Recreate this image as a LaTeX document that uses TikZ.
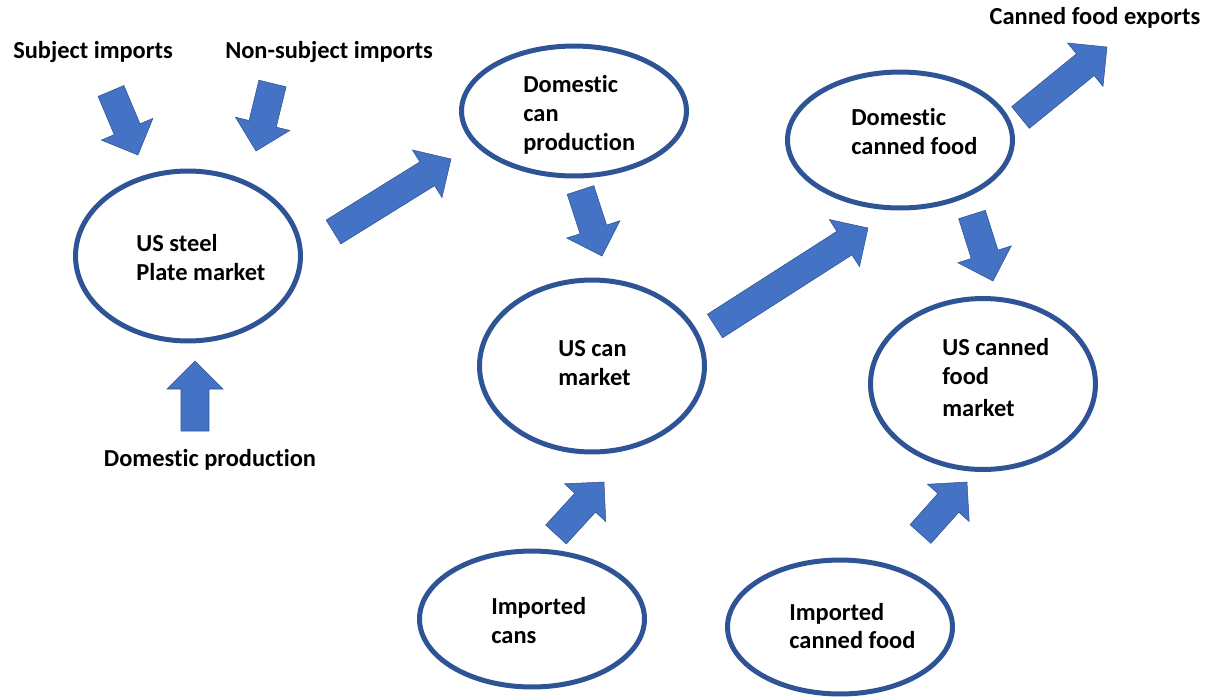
\documentclass[tikz,border=0pt]{standalone}
\usepackage{fontspec}
\setmainfont[Ligatures={NoCommon,NoRequired,NoContextual}]{Carlito}
\usetikzlibrary{calc,shapes.geometric}
\definecolor{arrfill}{HTML}{4472C4}
\definecolor{arrline}{HTML}{2F528F}
\definecolor{ellline}{HTML}{2F5496}
\newcommand\blkarrow[2]{%
  \coordinate (tmpb) at ($(#2)!0.56cm!(#1)$);
  \draw[barr] ($(#1)!0.28cm!90:(#2)$) -- ($(tmpb)!0.28cm!-90:(#1)$) -- ($(tmpb)!0.56cm!-90:(#1)$) -- (#2) -- ($(tmpb)!0.56cm!90:(#1)$) -- ($(tmpb)!0.28cm!90:(#1)$) -- ($(#1)!0.28cm!-90:(#2)$) -- cycle;
}
\begin{document}
\begin{tikzpicture}[x=0.02cm,y=-0.02cm,
  ell/.style={ellipse,draw=ellline,line width=0.1cm,minimum width=4.5cm,inner sep=0pt},
  txt/.style={font=\bfseries\fontsize{13.9}{16.4}\selectfont,align=left,inner sep=0pt},
  lbl/.style={font=\bfseries\fontsize{13.9}{16.4}\selectfont,inner sep=0pt},
  barr/.style={fill=arrfill,draw=arrline,line width=0.3pt,line join=miter}]
\useasboundingbox (0,0) rectangle (1208,698);
% ellipses
\node[ell,minimum height=3.4cm]  (steel)   at (188,256) {};
\node[ell,minimum height=2.6cm]  (canprod) at (574,111) {};
\node[ell,minimum height=3.44cm] (canmkt)  at (592,366) {};
\node[ell,minimum height=2.72cm] (dcf)     at (900,140) {};
\node[ell,minimum height=3.42cm] (uscf)    at (983,384) {};
\node[ell,minimum height=2.72cm] (impcans) at (532,619) {};
\node[ell,minimum height=2.68cm] (impcf)   at (840,627) {};
% ellipse texts
\node[txt,anchor=west] (steelT)   at (136,257.5) {US steel\\Plate market};
\node[txt,anchor=west] (canprodT) at (523,115) {Domestic\\can\\production};
\node[txt,anchor=west] (canmktT)  at (558,363) {US can\\market};
\node[txt,anchor=west] (dcfT)     at (851,131.5) {Domestic\\canned food};
\node[txt,anchor=west] (uscfT)    at (942,377.5) {US canned\\food\\[1.5pt]market};
\node[txt,anchor=west] (impcansT) at (491,620.5) {Imported\\cans};
\node[txt,anchor=west] (impcfT)   at (789,626) {Imported\\canned food};
% free labels
\node[lbl] (subj)    at (93,52)   {Subject imports};
\node[lbl] (nonsubj) at (329,52)  {Non-subject imports};
\node[lbl] (domprod) at (210,460) {Domestic production};
\node[lbl] (exports) at (1095,18) {Canned food exports};
% arrow end points
\coordinate (a1s) at (111,91);     \coordinate (a1e) at (138,155);
\coordinate (a2s) at (272.5,83.5); \coordinate (a2e) at (256,151);
\coordinate (a3s) at (195,431);    \coordinate (a3e) at (195,361);
\coordinate (a4s) at (333.5,232);  \coordinate (a4e) at (451,159);
\coordinate (a5s) at (580.5,190);  \coordinate (a5e) at (602,256);
\coordinate (a6s) at (715,326);    \coordinate (a6e) at (868,228);
\coordinate (a7s) at (1020.5,117.5); \coordinate (a7e) at (1107,47);
\coordinate (a8s) at (972,214.5);  \coordinate (a8e) at (993,281);
\coordinate (a9s) at (556,534.5);  \coordinate (a9e) at (604,482);
\coordinate (a10s) at (920.5,534); \coordinate (a10e) at (967,482);
\blkarrow{a1s}{a1e}
\blkarrow{a2s}{a2e}
\blkarrow{a3s}{a3e}
\blkarrow{a4s}{a4e}
\blkarrow{a5s}{a5e}
\blkarrow{a6s}{a6e}
\blkarrow{a7s}{a7e}
\blkarrow{a8s}{a8e}
\blkarrow{a9s}{a9e}
\blkarrow{a10s}{a10e}
\end{tikzpicture}
\end{document}
